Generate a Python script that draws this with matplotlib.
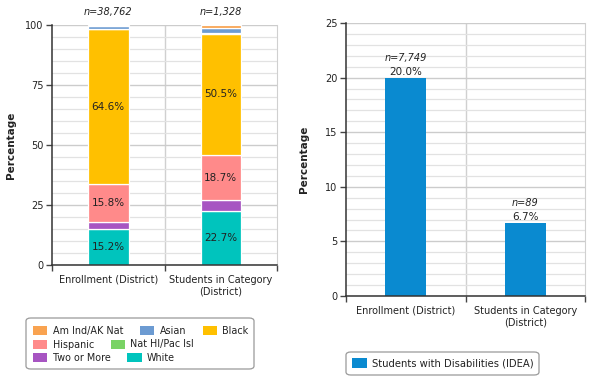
import matplotlib
matplotlib.use("Agg")
import matplotlib.pyplot as plt
from matplotlib.patches import FancyBboxPatch
import numpy as np

# ---------------- data ----------------
categories = ["Enrollment (District)", "Students in Category\n(District)"]
n_labels_left = ["n=38,762", "n=1,328"]
groups = ["White", "Two or More", "Hispanic", "Black", "Nat HI/Pac Isl", "Asian", "Am Ind/AK Nat"]
white = [15.2, 22.7]
two_or_more = [2.6, 4.4]
hispanic = [15.8, 18.7]
black = [64.6, 50.5]
nat_hi = [0.1, 0.2]
asian = [1.4, 2.4]
am_ind = [0.3, 1.1]
group_colors = {"White": "#00c4bd", "Two or More": "#a755c2", "Hispanic": "#ff8a8a",
                "Black": "#ffc000", "Nat HI/Pac Isl": "#79d365", "Asian": "#6c9bd2",
                "Am Ind/AK Nat": "#f9a350"}

swd_values = [20.0, 6.7]
swd_n = ["n=7,749", "n=89"]
swd_label = "Students with Disabilities (IDEA)"

W, H = 600, 377
fig = plt.figure(figsize=(6, 3.77), dpi=100)
plt.rcParams['font.family'] = ['DejaVu Sans']
TXT = "#222222"

def fx(px): return px / W
def fy(py): return 1 - py / H

def style_axes(ax, ymax, major, minor):
    ax.set_xlim(-0.5, 1.5)
    ax.set_ylim(0, ymax)
    ax.set_yticks(np.arange(0, ymax + 0.01, major))
    ax.set_yticks(np.arange(0, ymax + 0.01, minor), minor=True)
    ax.yaxis.grid(True, which='major', color="#cccccc", lw=1.0)
    ax.yaxis.grid(True, which='minor', color="#e2e2e2", lw=0.9)
    ax.set_axisbelow(True)
    ax.set_xticks([0, 1])
    ax.set_xticklabels(categories, fontsize=7, color=TXT)
    ax.set_xticks([-0.5, 0.5, 1.5], minor=True)
    ax.tick_params(axis='x', which='major', length=0, pad=7)
    ax.tick_params(axis='x', which='minor', length=4.5, width=1, color="#444444")
    ax.tick_params(axis='y', which='major', length=4.5, width=1, color="#444444",
                   labelsize=7, labelcolor=TXT, pad=1.5)
    ax.tick_params(axis='y', which='minor', length=0)
    ax.axvline(0.5, color="#d0d0d0", lw=1, zorder=0.5)
    ax.spines['top'].set_visible(False)
    ax.spines['right'].set_color("#d0d0d0")
    ax.spines['left'].set_color("#333333")
    ax.spines['bottom'].set_color("#333333")
    ax.spines['left'].set_linewidth(1.1)
    ax.spines['bottom'].set_linewidth(1.1)
    ax.set_ylabel("Percentage", fontsize=7.5, fontweight='bold', color=TXT)

# ---------------- left chart ----------------
axL = fig.add_axes([fx(52), fy(265), fx(277) - fx(52), fy(25) - fy(265)])
style_axes(axL, 100, 25, 5)
axL.yaxis.set_label_coords(-36 / 225, 0.5)

series = {"White": white, "Two or More": two_or_more, "Hispanic": hispanic,
          "Black": black, "Nat HI/Pac Isl": nat_hi, "Asian": asian, "Am Ind/AK Nat": am_ind}
x = np.arange(len(categories))
bottom = np.zeros(len(categories))
handles = {}
for g in groups:
    vals = np.array(series[g])
    bars = axL.bar(x, vals, 0.36, bottom=bottom, color=group_colors[g],
                   edgecolor="white", linewidth=0.9, label=g, zorder=2)
    handles[g] = bars
    for xi, v, b in zip(x, vals, bottom):
        if v >= 10:
            axL.text(xi, b + v / 2, f"{v:.1f}%", ha='center', va='center',
                     fontsize=7.5, color=TXT, zorder=3)
    bottom = bottom + vals

for xi, n in zip(x, n_labels_left):
    axL.annotate(n, (xi, 100), xytext=(0, 9.5), textcoords='offset points',
                 ha='center', va='center', fontsize=7, style='italic', color=TXT,
                 annotation_clip=False)

# ---------------- right chart ----------------
axR = fig.add_axes([fx(346), fy(296), fx(585) - fx(346), fy(23) - fy(296)])
style_axes(axR, 25, 5, 1)
axR.yaxis.set_label_coords(-37 / 239, 0.5)
barsR = axR.bar(x, swd_values, 0.34, color="#0a8ad0", label=swd_label, zorder=2)
for xi, v, n in zip(x, swd_values, swd_n):
    axR.annotate(f"{v:.1f}%", (xi, v), xytext=(0, 0.6), textcoords='offset points',
                 ha='center', va='bottom', fontsize=7.5, color=TXT)
    axR.annotate(n, (xi, v), xytext=(0, 10.5), textcoords='offset points',
                 ha='center', va='bottom', fontsize=7, style='italic', color=TXT)

# ---------------- legends ----------------
def frame(x0, y0, x1, y1):
    p = FancyBboxPatch((fx(x0), fy(y1)), fx(x1) - fx(x0), fy(y0) - fy(y1),
                       boxstyle="round,pad=0,rounding_size=0.008",
                       transform=fig.transFigure, facecolor="white",
                       edgecolor="#9a9a9a", lw=0.9, zorder=0)
    fig.patches.append(p)

frame(26, 318, 254, 369)
rows = [(["Am Ind/AK Nat", "Asian", "Black"], 331),
        (["Hispanic", "Nat HI/Pac Isl"], 344.5),
        (["Two or More", "White"], 358)]
for names, yc in rows:
    leg = fig.legend([handles[n] for n in names], names, loc='center left',
                     bbox_to_anchor=(fx(33), fy(yc)), ncol=len(names), frameon=False,
                     fontsize=6.9, borderpad=0, borderaxespad=0, handlelength=1.5,
                     handleheight=1.0, handletextpad=0.55, columnspacing=1.75,
                     labelcolor=TXT)
    for h in leg.legend_handles:
        h.set_edgecolor("none")

frame(346, 352, 539, 375)
legR = fig.legend([barsR], [swd_label], loc='center left', bbox_to_anchor=(fx(352), fy(363.5)),
                  frameon=False, fontsize=7.2, borderpad=0, borderaxespad=0,
                  handlelength=1.5, handleheight=1.1, handletextpad=0.55, labelcolor=TXT)

fig.savefig("out.png", dpi=100, facecolor="white")
